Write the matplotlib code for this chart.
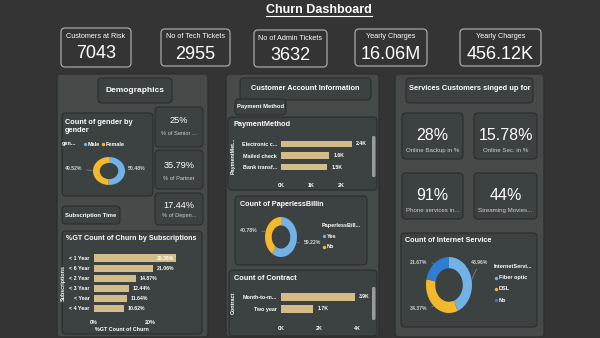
import numpy as np
import matplotlib.pyplot as plt
from matplotlib import font_manager
from matplotlib.patches import FancyBboxPatch

# ---------------------------------------------------------------------------
# Datos del tablero
kpi_titulos = ['Customers at Risk', 'No of Tech Tickets', 'No of Admin Tickets',
               'Yearly Charges', 'Yearly Charges']
kpi_valores = ['7043', '2955', '3632', '16.06M', '456.12K']

demo_valores = ['25%', '35.79%', '17.44%']
demo_titulos = ['% of Senior ...', '% of Partner', '% of Depen...']

genero = ['Male', 'Female']
genero_pct = [50.48, 49.52]

suscripciones = ['< 1 Year', '< 6 Year', '< 2 Year', '< 3 Year', '< Year', '< 4 Year']
suscripciones_pct = [29.38, 21.06, 14.87, 12.44, 11.64, 10.62]

pago = ['Electronic c...', 'Mailed check', 'Bank transf...']
pago_conteo = [2365, 1612, 1544]

papel = ['Yes', 'No']
papel_pct = [59.22, 40.78]

contrato = ['Month-to-m...', 'Two year']
contrato_conteo = [3875, 1695]

servicios_valores = ['28%', '15.78%', '91%', '44%']
servicios_titulos = ['Online Backup in %', 'Online Sec. in %',
                     'Phone services in...', 'Streaming Movies...']

internet = ['Fiber optic', 'DSL', 'No']
internet_pct = [43.96, 34.37, 21.67]

# ---------------------------------------------------------------------------
# Colores y fuentes
FONDO = '#343434'
PANEL = '#464b4a'
TARJETA = '#3c4141'
BORDE = '#2a2d2d'
BLANCO = '#ffffff'
GRIS = '#d2d2d2'
BARRA = '#d4bc88'
AZUL = '#72b2e6'
AMARILLO = '#f4b82c'
AZUL_OSC = '#2f7ed2'

nombres = {f.name for f in font_manager.fontManager.ttflist}
fuentes = [n for n in ['Liberation Sans', 'DejaVu Sans'] if n in nombres]
plt.rcParams['font.family'] = fuentes

W, H = 600, 338
fig = plt.figure(figsize=(6, 3.38), dpi=100)
fig.patch.set_facecolor(FONDO)

# ejes de fondo en pixeles (y hacia abajo)
base = fig.add_axes([0, 0, 1, 1])
base.set_xlim(0, W)
base.set_ylim(H, 0)
base.axis('off')


def caja(x0, y0, x1, y1, fc=TARJETA, ec=BORDE, lw=0.8, r=4):
    base.add_patch(FancyBboxPatch((x0, y0), x1 - x0, y1 - y0,
                                  boxstyle=f'round,pad=0,rounding_size={r}',
                                  fc=fc, ec=ec, lw=lw))


def texto(x, y, s, size=6, color=BLANCO, peso='normal', ha='center', va='center', **kw):
    return base.text(x, y, s, fontsize=size, color=color, fontweight=peso,
                     ha=ha, va=va, **kw)


def ejes(x0, y0, x1, y1):
    ax = fig.add_axes([x0 / W, 1 - y1 / H, (x1 - x0) / W, (y1 - y0) / H])
    ax.set_facecolor('none')
    for s in ax.spines.values():
        s.set_visible(False)
    return ax


# ---------------------------------------------------------------------------
# Titulo
titulo = texto(319, 10, 'Churn Dashboard', size=9, peso='bold')

# Tarjetas superiores
kpi_cajas = [(61, 28, 131, 67), (161, 29, 230, 66), (254, 30, 327, 67),
             (355, 29, 427, 66), (460, 29, 541, 66)]
for (x0, y0, x1, y1), t, v in zip(kpi_cajas, kpi_titulos, kpi_valores):
    caja(x0, y0, x1, y1, fc=FONDO, ec='#a8a8a8', lw=0.9, r=4)
    cx = (x0 + x1) / 2
    texto(cx, y0 + 8, t, size=5.2)
    texto(cx, y0 + 25.5, v, size=13)

# Paneles grandes
caja(57, 74, 208, 337, fc=PANEL, ec='#2e3131', lw=1, r=4)
caja(226, 74, 379, 337, fc=PANEL, ec='#2e3131', lw=1, r=4)
caja(395, 74, 544, 337, fc=PANEL, ec='#2e3131', lw=1, r=4)

# ---------------------------------------------------------------------------
# Panel demografico
caja(98, 78, 172, 103)
texto(135, 90, 'Demographics', size=6, peso='bold')

caja(62, 113, 153, 196)
texto(65, 119, 'Count of gender by\ngender', size=5.3, peso='bold', ha='left', va='top',
      linespacing=1.2)

demo_cajas = [(155, 107, 203, 147), (155, 150, 203, 189), (155, 193, 203, 225)]
demo_y = [(120.5, 133.5), (165, 178), (205, 215)]
for (x0, y0, x1, y1), (yv, yt), v, t in zip(demo_cajas, demo_y, demo_valores, demo_titulos):
    caja(x0, y0, x1, y1)
    texto((x0 + x1) / 2, yv, v, size=6.6)
    texto((x0 + x1) / 2, yt, t, size=4.1, color=GRIS)

caja(62, 206, 120, 224)
texto(91, 215, 'Subscription Time', size=4.2, peso='bold')

caja(62, 231, 202, 334)
texto(66, 239, '%GT Count of Churn by Subscriptions', size=5.1, peso='bold', ha='left')


def dona(caja_px, valores, colores, ancho, etiquetas_px):
    ax = ejes(*caja_px)
    cunas, _ = ax.pie(valores, colors=colores, startangle=90, counterclock=False,
                      radius=1, wedgeprops=dict(width=ancho, linewidth=0))
    ax.set_aspect('auto')
    ax.set_xlim(-1, 1)
    ax.set_ylim(-1, 1)
    for cuna, v, (tx, ty, ha) in zip(cunas, valores, etiquetas_px):
        ang = np.deg2rad((cuna.theta1 + cuna.theta2) / 2)
        ax.annotate(f'{v:.2f}%', xy=(np.cos(ang), np.sin(ang)), xytext=(tx, ty),
                    textcoords=base.transData, ha=ha, va='center', fontsize=3.7,
                    fontweight='bold', color=GRIS, annotation_clip=False,
                    arrowprops=dict(arrowstyle='-', color='#8a8e8e', lw=0.5,
                                    shrinkA=1.5, shrinkB=0.5))
    return ax


def leyenda(x, y0, dy, titulo_ley, categorias, colores, horizontal=False, xs=None):
    texto(x, y0, titulo_ley, size=4.0, peso='bold', ha='left')
    for i, (c, col) in enumerate(zip(categorias, colores)):
        if horizontal:
            px, py = xs[i], y0
        else:
            px, py = x + 2, y0 + dy * (i + 1)
        base.scatter([px], [py], s=6, color=col, linewidths=0)
        texto(px + 3, py, c, size=4.0, peso='bold', ha='left')


# dona de genero
dona((93, 157, 125, 185), genero_pct, [AZUL, AMARILLO], 0.42,
     [(128, 168, 'left'), (82, 168, 'right')])
leyenda(62, 144, 0, 'gen...', genero, [AZUL, AMARILLO], horizontal=True, xs=[85, 103])


def barras(caja_px, categorias, valores, xmax, ticks, tick_txt, alto, etiquetas,
           pad_x, ylabel, ylabel_x, interior=None):
    x0, y0, x1, y1 = caja_px
    ax = ejes(*caja_px)
    y = np.arange(len(categorias))
    ax.barh(y, valores, height=alto, color=BARRA)
    ax.set_xlim(0, xmax)
    ax.set_ylim(len(categorias) - 0.5, -0.5)
    ax.set_yticks(y, categorias)
    ax.set_xticks(ticks, tick_txt)
    ax.tick_params(axis='y', length=0, pad=3, labelsize=3.9, labelcolor=BLANCO)
    ax.tick_params(axis='x', length=0, pad=pad_x, labelsize=3.9, labelcolor=BLANCO)
    for lbl in ax.get_xticklabels() + ax.get_yticklabels():
        lbl.set_fontweight('bold')
    esc = xmax / (x1 - x0)
    for i, (v, e) in enumerate(zip(valores, etiquetas)):
        if interior is not None and v > interior:
            ax.text(v - 2 * esc, i, e, ha='right', va='center', fontsize=3.7,
                    fontweight='bold', color=BLANCO)
        else:
            ax.text(v + 4 * esc, i, e, ha='left', va='center', fontsize=3.7,
                    fontweight='bold', color=BLANCO)
    ax.set_ylabel(ylabel, fontsize=3.9, fontweight='bold', color=BLANCO)
    ax.yaxis.set_label_coords((ylabel_x - x0) / (x1 - x0), 0.5)
    return ax


ax_sus = barras((94, 253, 185, 313), suscripciones, suscripciones_pct, 91 / 56 * 20,
                [0, 20], ['0%', '20%'], 0.7, [f'{v:.2f}%' for v in suscripciones_pct],
                5, 'Subscriptions', 66, interior=25)
ax_sus.set_xlabel('%GT Count of Churn', fontsize=3.9, fontweight='bold', color=BLANCO)
ax_sus.xaxis.set_label_coords((122 - 94) / 91, -(327 - 313) / 60)

# ---------------------------------------------------------------------------
# Panel de cuenta del cliente
caja(240, 78, 371, 100)
texto(305.5, 89, 'Customer Account Information', size=5.3, peso='bold')
caja(235, 99, 286, 115)
texto(260.5, 106.5, 'Payment Method', size=4.2, peso='bold')

caja(228, 117, 377, 190)
texto(234, 125, 'PaymentMethod', size=5.3, peso='bold', ha='left')
barras((281, 138, 362, 173), pago, pago_conteo, 2700, [0, 1000, 2000],
       ['0K', '1K', '2K'], 0.55, [f'{v / 1000:.1f}K' for v in pago_conteo],
       7, 'PaymentMet...', 236)
caja(372, 136, 375.5, 177, fc='#9a9a9a', ec='none', lw=0, r=1.5)

caja(235, 196, 367, 265)
texto(240, 204, 'Count of PaperlessBillin', size=5.2, peso='bold', ha='left')
dona((265, 217, 297, 257), papel_pct, [AZUL, AMARILLO], 0.42,
     [(304, 243, 'left'), (257, 231, 'right')])
leyenda(322, 225, 11, 'PaperlessBill...', papel, [AZUL, AMARILLO])

caja(229, 270, 377, 336)
texto(234, 278, 'Count of Contract', size=5.3, peso='bold', ha='left')
barras((281, 291, 362, 315), contrato, contrato_conteo, 81 / 19 * 1000, [0, 2000, 4000],
       ['0K', '2K', '4K'], 0.6, [f'{v / 1000:.1f}K' for v in contrato_conteo],
       8, 'Contract', 236)
caja(372, 287, 375.5, 320, fc='#9a9a9a', ec='none', lw=0, r=1.5)

# ---------------------------------------------------------------------------
# Panel de servicios
caja(406, 78, 533, 103)
texto(469.5, 89, 'Services Customers singed up for', size=5.4, peso='bold')

serv_cajas = [(402, 113, 463, 159), (474, 113, 537, 159),
              (402, 173, 463, 219), (474, 173, 537, 219)]
for (x0, y0, x1, y1), v, t in zip(serv_cajas, servicios_valores, servicios_titulos):
    caja(x0, y0, x1, y1)
    texto((x0 + x1) / 2, y0 + 22, v, size=11.5)
    texto((x0 + x1) / 2, y0 + 37.5, t, size=4.4, color=GRIS)

caja(401, 233, 537, 327)
texto(405, 241, 'Count of Internet Service', size=5.2, peso='bold', ha='left')
dona((426, 257, 472, 313), internet_pct, [AZUL, AMARILLO, AZUL_OSC], 0.4,
     [(471, 262, 'left'), (427, 308, 'right'), (427, 262, 'right')])
leyenda(494, 267, 11, 'InternetServi...', internet, [AZUL, AMARILLO, AZUL_OSC])

# subrayado del titulo
fig.canvas.draw()
bb = titulo.get_window_extent().transformed(base.transData.inverted())
yb = max(bb.y0, bb.y1)
base.plot([bb.x0, bb.x1], [yb - 0.3, yb - 0.3], color=BLANCO, lw=0.8)

fig.savefig('out.png', dpi=100, facecolor=FONDO)
